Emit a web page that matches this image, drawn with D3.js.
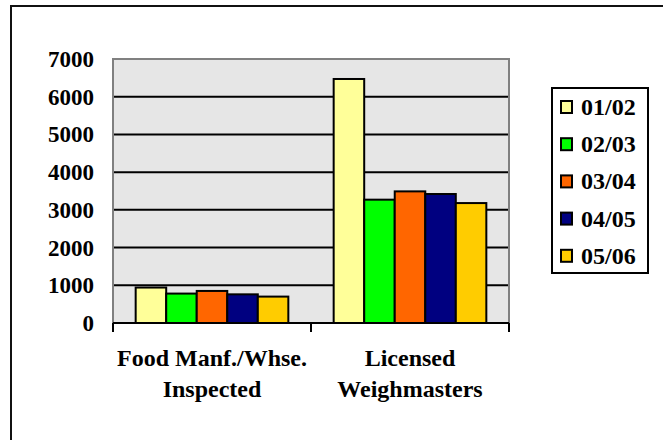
<!DOCTYPE html>
<html>
<head>
<meta charset="utf-8">
<script src="https://cdn.jsdelivr.net/npm/d3@7"></script>
<style>
  html, body { margin: 0; padding: 0; background: #fff; }
  svg { display: block; }
</style>
</head>
<body>
<svg id="chart" width="663" height="440"></svg>
<script>
// Category labels, split onto two lines each
const categories = ["Food Manf./Whse. Inspected", "Licensed Weighmasters"];
const categoryLines = [["Food Manf./Whse.", "Inspected"], ["Licensed", "Weighmasters"]];

// Fiscal years (series)
const seasons = ["01/02", "02/03", "03/04", "04/05", "05/06"];
const seasonColors = ["#FFFF99", "#00FF00", "#FF6600", "#000080", "#FFCC00"];

// Values per category, one per fiscal year
const foodInspected = [940, 780, 850, 760, 700];
const weighmasters = [6470, 3270, 3490, 3420, 3180];

// Value axis ticks
const yTicks = [0, 1000, 2000, 3000, 4000, 5000, 6000, 7000];

const rows = [foodInspected, weighmasters];

const FONT = "'Liberation Serif'";
const svg = d3.select("#chart");

function label(sel, size) {
  return sel.style("font-family", FONT).style("font-weight", "bold")
    .style("font-size", size + "px").style("fill", "#000");
}

// Outer frame
svg.append("rect")
  .attr("x", 11).attr("y", 6)
  .attr("width", 720).attr("height", 500)
  .attr("fill", "none").attr("stroke", "#111").attr("stroke-width", 2);

const plot = { left: 113, right: 509, top: 59, bottom: 323 };

const x = d3.scaleBand().domain(categories).range([plot.left, plot.right]);
const bw = x.bandwidth();
const xInner = d3.scaleBand().domain(seasons).range([bw * 0.1145, bw * 0.8855]);
const y = d3.scaleLinear().domain([0, 7000]).range([plot.bottom, plot.top]);

// Plot background
svg.append("rect")
  .attr("x", plot.left).attr("y", plot.top)
  .attr("width", plot.right - plot.left).attr("height", plot.bottom - plot.top)
  .attr("fill", "#E6E6E6");

// Gridlines
svg.append("g")
  .selectAll("line")
  .data(yTicks.filter(t => t > 0 && t < 7000))
  .join("line")
  .attr("x1", plot.left).attr("x2", plot.right)
  .attr("y1", d => y(d)).attr("y2", d => y(d))
  .attr("stroke", "#000").attr("stroke-width", 2);

// Plot border (left, top, right)
svg.append("path")
  .attr("d", `M${plot.left},${plot.bottom}V${plot.top}H${plot.right}V${plot.bottom}`)
  .attr("fill", "none").attr("stroke", "#808080").attr("stroke-width", 2);

// Bars
const groups = svg.append("g")
  .selectAll("g")
  .data(categories)
  .join("g")
  .attr("transform", d => `translate(${x(d)},0)`);

groups.selectAll("rect")
  .data((d, i) => rows[i].map((v, j) => ({ season: seasons[j], value: v, color: seasonColors[j] })))
  .join("rect")
  .attr("x", d => xInner(d.season))
  .attr("width", xInner.bandwidth())
  .attr("y", d => y(d.value))
  .attr("height", d => y(0) - y(d.value))
  .attr("fill", d => d.color)
  .attr("stroke", "#000").attr("stroke-width", 2);

// Category axis
const xAxis = svg.append("g").attr("transform", `translate(0,${plot.bottom})`);
xAxis.append("line")
  .attr("x1", plot.left).attr("x2", plot.right)
  .attr("stroke", "#000").attr("stroke-width", 2);
const tickXs = [plot.left, ...categories.map(c => x(c) + bw)];
xAxis.selectAll("line.tick")
  .data(tickXs)
  .join("line")
  .attr("class", "tick")
  .attr("x1", d => d).attr("x2", d => d)
  .attr("y1", 0).attr("y2", 9)
  .attr("stroke", "#000").attr("stroke-width", 2);

const catLabels = label(svg.append("g")
  .selectAll("text")
  .data(categories)
  .join("text"), 24)
  .attr("text-anchor", "middle")
  .attr("x", d => x(d) + bw / 2)
  .attr("y", 366);
catLabels.selectAll("tspan")
  .data((d, i) => categoryLines[i])
  .join("tspan")
  .attr("x", function () { return d3.select(this.parentNode).attr("x"); })
  .attr("dy", (d, i) => i === 0 ? 0 : 31)
  .text(d => d);

// Value axis labels
label(svg.append("g")
  .selectAll("text")
  .data(yTicks)
  .join("text"), 23)
  .attr("text-anchor", "end")
  .attr("x", 94)
  .attr("y", d => y(d) + 8)
  .text(d => d);

// Legend
const legend = svg.append("g");
legend.append("rect")
  .attr("x", 552).attr("y", 88)
  .attr("width", 96).attr("height", 185)
  .attr("fill", "#fff").attr("stroke", "#000").attr("stroke-width", 2);

const items = legend.selectAll("g.item")
  .data(seasons)
  .join("g")
  .attr("class", "item")
  .attr("transform", (d, i) => `translate(0,${107 + i * 37.2})`);
items.append("rect")
  .attr("x", 561).attr("y", -6)
  .attr("width", 11).attr("height", 12)
  .attr("fill", (d, i) => seasonColors[i])
  .attr("stroke", "#000").attr("stroke-width", 2);
label(items.append("text"), 24)
  .attr("x", 581).attr("y", 8)
  .text(d => d);
</script>
</body>
</html>
